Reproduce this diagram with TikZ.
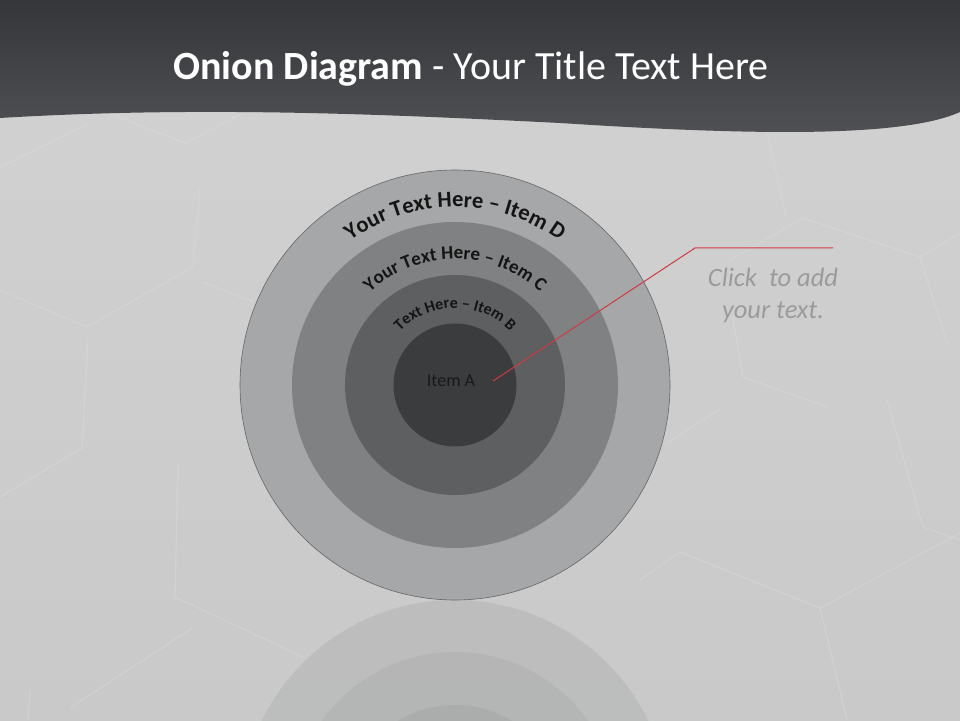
\documentclass[tikz,border=0pt]{standalone}
\usepackage{fontspec}
\setmainfont{Carlito}
\usetikzlibrary{decorations.text}
\definecolor{hdrtop}{HTML}{35363A}
\definecolor{hdrbot}{HTML}{505155}
\definecolor{bgA}{HTML}{D2D2D2}
\definecolor{bgB}{HTML}{C9C9C9}
\definecolor{ringD}{HTML}{A6A7A9}
\definecolor{ringC}{HTML}{808183}
\definecolor{ringB}{HTML}{5E5F61}
\definecolor{ringA}{HTML}{3B3C3E}
\definecolor{callred}{HTML}{D23A40}
\definecolor{clickgray}{HTML}{9B9B9B}
\definecolor{hexline}{HTML}{DDDDDD}
\tikzset{
  hexedge/.style={draw=hexline, line width=1.2pt, opacity=0.4},
  ring/.style={circle, minimum size=#1, inner sep=0pt},
  callout/.style={draw=callred, line width=1pt},
}
\begin{document}
\begin{tikzpicture}[x=1pt,y=1pt]
\useasboundingbox (0,0) rectangle (960,720);
% background
\shade[top color=bgA, bottom color=bgB] (0,0) rectangle (960,720);
% hexagon pattern (faint)
\draw[hexedge] (0,553) -- (90,597);
\draw[hexedge] (113,605) -- (185,577) -- (243,607);
\draw[hexedge] (200,533) -- (193,453) -- (87,393) -- (0,430);
\draw[hexedge] (203,438) -- (253,418);
\draw[hexedge] (88,380) -- (82,272) -- (0,223);
\draw[hexedge] (178,257) -- (175,123) -- (303,63);
\draw[hexedge] (192,92) -- (70,12);
\draw[hexedge] (30,30) -- (28,0);
\draw[hexedge] (767,587) -- (787,500);
\draw[hexedge] (730,460) -- (803,502) -- (920,463) -- (960,487);
\draw[hexedge] (920,463) -- (947,377);
\draw[hexedge] (733,403) -- (743,343) -- (827,313);
\draw[hexedge] (640,140) -- (680,168) -- (820,112) -- (960,187);
\draw[hexedge] (820,112) -- (847,0);
\draw[hexedge] (723,313) -- (667,277);
\draw[hexedge] (887,320) -- (923,193) -- (960,180);
% reflection
\begin{scope}
  \clip (0,0) rectangle (960,120);
  \fill[ringD, opacity=0.35] (455,-95) circle[radius=215];
  \fill[ringC, opacity=0.12] (455,-95) circle[radius=163];
  \fill[ringB, opacity=0.10] (455,-95) circle[radius=110];
\end{scope}
% header
\shade[top color=hdrtop, bottom color=hdrbot]
  (0,720) -- (0,602) .. controls (200,614) and (380,606) .. (560,597)
  .. controls (760,584) and (905,583) .. (960,608) -- (960,720) -- cycle;
\node[anchor=base, text=white, font=\fontsize{40}{46}\selectfont] (title) at (471,640)
  {\textbf{Onion Diagram} - Your Title Text Here};
% onion
\node[ring=430pt, fill=ringD, draw=gray!80!black, line width=0.6pt] (D) at (455,335) {};
\node[ring=326pt, fill=ringC] (C) at (455,335) {};
\node[ring=220pt, fill=ringB] (B) at (455,335) {};
\node[ring=123pt, fill=ringA] (A) at (455,335) {};
% curved labels
\path[decorate, decoration={text along path, text align=center,
  text={|\bfseries\fontsize{22.5}{22.5}\selectfont\color{black!92}|Your Text Here – Item D}}]
  (D.center) ++(172:178) arc[start angle=172, end angle=8, radius=178];
\path[decorate, decoration={text along path, text align=center,
  text={|\bfseries\fontsize{19}{19}\selectfont\color{black!92}|Your Text Here – Item C}}]
  (C.center) ++(175:126) arc[start angle=175, end angle=5, radius=126];
\path[decorate, decoration={text along path, text align=center,
  text={|\bfseries\fontsize{16}{16}\selectfont\color{black!92}|Text Here – Item B}}]
  (B.center) ++(178:77) arc[start angle=178, end angle=2, radius=77];
\node[text=black!90, font=\fontsize{18}{18}\selectfont] (itemA) at (451,339) {Item A};
% callout
\coordinate (pA) at (493,339);
\coordinate (pK) at (695,472);
\coordinate (pE) at (833,472);
\draw[callout] (pA) -- (pK) -- (pE);
\node[text=clickgray, align=center, font=\itshape\fontsize{26.5}{32}\selectfont] (click) at (773,425)
  {Click\ \ to add\\your text.};
\end{tikzpicture}
\end{document}
